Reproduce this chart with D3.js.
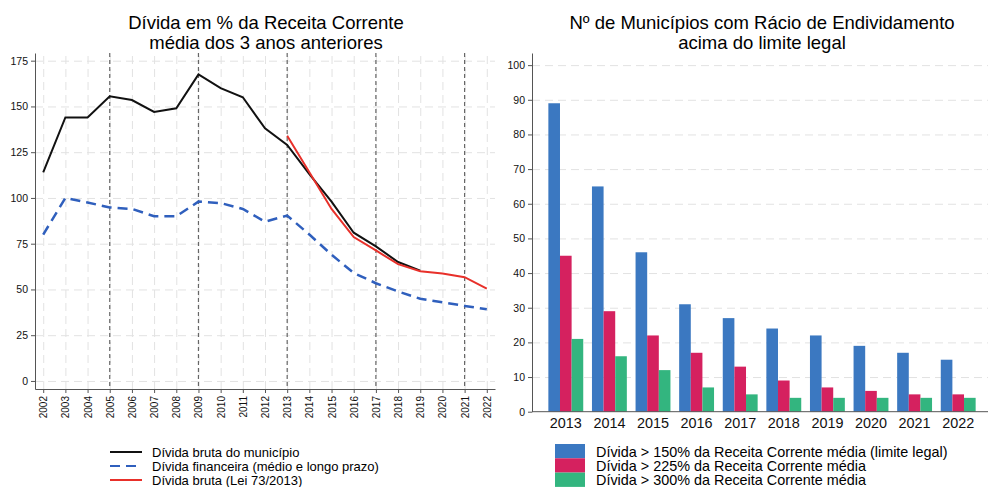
<!DOCTYPE html>
<html>
<head>
<meta charset="utf-8">
<script src="https://cdn.jsdelivr.net/npm/d3@7"></script>
<style>
	body { margin: 0; background: #fff; }
	svg { display: block; font-family: "Liberation Sans", Arial, sans-serif; }
	.grid line { stroke: #e2e2e2; stroke-dasharray: 8,5; }
	.grid path { display: none; }
	.axis path, .axis line { stroke: #555; }
</style>
</head>
<body>
<svg id="chart" width="989" height="487"></svg>
<script>
// left panel: debt as % of average current revenue
const years = d3.range(2002, 2023);
const debtGross = [114, 144, 144, 155.5, 153.5, 147, 149, 167.5, 160, 155, 138, 129, 113, 98, 81, 73.5, 65, 60.3];
const debtFinancial = [80, 100, 97.5, 94.8, 94, 90, 90, 98, 97.2, 94, 87, 90.4, 80, 69, 59, 53.4, 48.9, 44.9, 43, 41, 39.2];
const debtLaw = [134, 114, 94, 78.6, 71.3, 63.8, 60, 58.7, 56.7, 50.5];
const lawStart = 2013;
const markYears = [2005, 2009, 2013, 2017, 2021];
const leftTicks = [0, 25, 50, 75, 100, 125, 150, 175];

// right panel: municipalities above the limit
const barYears = d3.range(2013, 2023).map(String);
const over150 = [89, 65, 46, 31, 27, 24, 22, 19, 17, 15];
const over225 = [45, 29, 22, 17, 13, 9, 7, 6, 5, 5];
const over300 = [21, 16, 12, 7, 5, 4, 4, 4, 4, 4];
const rightTicks = d3.range(0, 101, 10);

const lineLegend = ["Dívida bruta do município", "Dívida financeira (médio e longo prazo)", "Dívida bruta (Lei 73/2013)"];
const barLegend = ["Dívida > 150% da Receita Corrente média (limite legal)", "Dívida > 225% da Receita Corrente média", "Dívida > 300% da Receita Corrente média"];
const barColors = ["#3b78c1", "#d5215f", "#33b57f"];

const svg = d3.select("#chart");

// ---------------- left chart ----------------
const xL = d3.scaleLinear().domain([2001.63, 2022.37]).range([35, 495]);
const yL = d3.scaleLinear().domain([-4.4, 179.2]).range([389, 53]);

const gl = svg.append("g");

gl.append("g").attr("class", "grid")
	.attr("transform", "translate(0,389)")
	.call(d3.axisBottom(xL).tickValues(years).tickSize(-336).tickFormat(""));
gl.append("g").attr("class", "grid")
	.attr("transform", "translate(35,0)")
	.call(d3.axisLeft(yL).tickValues(leftTicks).tickSize(-460).tickFormat(""));

gl.selectAll("line.mark")
	.data(markYears)
	.enter().append("line")
	.attr("class", "mark")
	.attr("x1", d => xL(d)).attr("x2", d => xL(d))
	.attr("y1", 53).attr("y2", 389)
	.attr("stroke", "#666")
	.attr("stroke-width", 1.2)
	.attr("stroke-dasharray", "4,3");

const line = d3.line().x(d => xL(d[0])).y(d => yL(d[1]));

gl.append("path")
	.datum(debtFinancial.map((v, i) => [years[i], v]))
	.attr("fill", "none").attr("stroke", "#2f5fbd").attr("stroke-width", 2.5)
	.attr("stroke-dasharray", "10,6")
	.attr("d", line);

gl.append("path")
	.datum(debtGross.map((v, i) => [years[i], v]))
	.attr("fill", "none").attr("stroke", "#111").attr("stroke-width", 2)
	.attr("d", line);

gl.append("path")
	.datum(debtLaw.map((v, i) => [lawStart + i, v]))
	.attr("fill", "none").attr("stroke", "#e8302a").attr("stroke-width", 2)
	.attr("d", line);

const axLx = gl.append("g").attr("class", "axis")
	.attr("transform", "translate(0,389)")
	.call(d3.axisBottom(xL).tickValues(years).tickFormat(d3.format("d")).tickSize(4).tickSizeOuter(0));
axLx.selectAll("text")
	.attr("transform", "rotate(-90)")
	.attr("x", -7).attr("y", 0).attr("dy", "0.35em")
	.style("text-anchor", "end")
	.attr("font-size", 10).attr("fill", "#111");

const axLy = gl.append("g").attr("class", "axis")
	.attr("transform", "translate(35,0)")
	.call(d3.axisLeft(yL).tickValues(leftTicks).tickSize(4).tickSizeOuter(0));
axLy.selectAll("text").attr("font-size", 10.5).attr("fill", "#111");

gl.append("text").attr("x", 266).attr("y", 29).attr("text-anchor", "middle")
	.attr("font-size", 18.5).text("Dívida em % da Receita Corrente");
gl.append("text").attr("x", 266).attr("y", 49).attr("text-anchor", "middle")
	.attr("font-size", 18.5).text("média dos 3 anos anteriores");

const lineStyles = [
	{ c: "#111", w: 2, dash: null },
	{ c: "#2f5fbd", w: 2, dash: "10,6" },
	{ c: "#e8302a", w: 2, dash: null }
];
const lgL = gl.selectAll("g.lleg").data(lineLegend).enter().append("g")
	.attr("transform", (d, i) => `translate(110,${452 + i * 14})`);
lgL.append("line").attr("x1", 0).attr("x2", 32).attr("y1", 0).attr("y2", 0)
	.attr("stroke", (d, i) => lineStyles[i].c)
	.attr("stroke-width", (d, i) => lineStyles[i].w)
	.attr("stroke-dasharray", (d, i) => lineStyles[i].dash);
lgL.append("text").attr("x", 42).attr("dy", "0.35em").attr("font-size", 13).text(d => d);

// ---------------- right chart ----------------
const x0 = d3.scaleBand().domain(barYears).range([544, 980]).paddingInner(0.2).paddingOuter(0.1);
const x1 = d3.scaleBand().domain([0, 1, 2]).range([0, x0.bandwidth()]);
const yR = d3.scaleLinear().domain([0, 103.5]).range([411.7, 53]);

const gr = svg.append("g");

gr.append("g").attr("class", "grid")
	.attr("transform", "translate(532,0)")
	.call(d3.axisLeft(yR).tickValues(rightTicks.slice(1)).tickSize(-456).tickFormat(""));

const series = [over150, over225, over300];
const groups = gr.selectAll("g.year").data(barYears).enter().append("g")
	.attr("transform", d => `translate(${x0(d)},0)`);
groups.selectAll("rect")
	.data((d, i) => series.map((s, k) => ({ k: k, v: s[i] })))
	.enter().append("rect")
	.attr("x", d => x1(d.k))
	.attr("width", x1.bandwidth())
	.attr("y", d => yR(d.v))
	.attr("height", d => yR(0) - yR(d.v))
	.attr("fill", d => barColors[d.k]);

const axRx = gr.append("g").attr("class", "axis")
	.attr("transform", "translate(0,411.7)")
	.call(d3.axisBottom(x0).tickSize(0).tickSizeOuter(0));
axRx.select(".domain").attr("d", "M532,0H988");
axRx.selectAll("text").attr("font-size", 14.4).attr("fill", "#111").attr("dy", "0.95em");

const axRy = gr.append("g").attr("class", "axis")
	.attr("transform", "translate(532,0)")
	.call(d3.axisLeft(yR).tickValues(rightTicks).tickSize(4).tickSizeOuter(0));
axRy.selectAll("text").attr("font-size", 10.5).attr("fill", "#111");

gr.append("text").attr("x", 762).attr("y", 29).attr("text-anchor", "middle")
	.attr("font-size", 18.5).text("Nº de Municípios com Rácio de Endividamento");
gr.append("text").attr("x", 762).attr("y", 49).attr("text-anchor", "middle")
	.attr("font-size", 18.5).text("acima do limite legal");

const lgR = gr.selectAll("g.bleg").data(barLegend).enter().append("g")
	.attr("transform", (d, i) => `translate(555,${444 + i * 14.3})`);
lgR.append("rect").attr("width", 30).attr("height", 14.3).attr("fill", (d, i) => barColors[i]);
lgR.append("text").attr("x", 41).attr("y", 7.5).attr("dy", "0.35em").attr("font-size", 14.4).text(d => d);
</script>
</body>
</html>
